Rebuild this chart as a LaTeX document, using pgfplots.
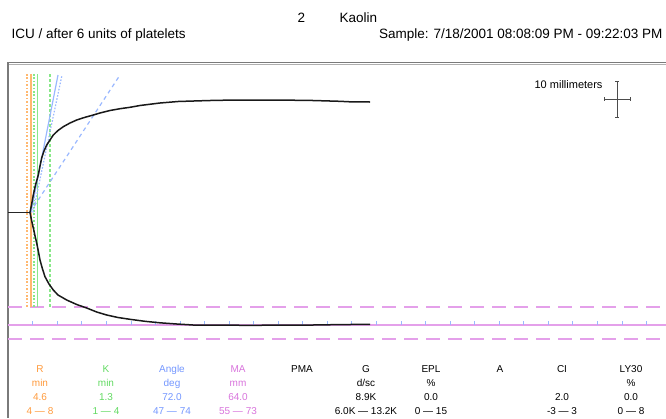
\documentclass[border=0pt]{standalone}
\usepackage{pgfplots}
\pgfplotsset{compat=1.18}
\usepackage{fontspec}
\setmainfont{Liberation Sans}
\definecolor{rcol}{HTML}{FF9A3C}
\definecolor{kcol}{HTML}{62DA62}
\definecolor{acol}{HTML}{7497FF}
\definecolor{macol}{HTML}{D874DC}
\definecolor{rline}{HTML}{FFB870}
\definecolor{kline}{HTML}{88E888}
\definecolor{aline}{HTML}{9AB8FF}
\definecolor{mline}{HTML}{E4A0EA}
\definecolor{frame}{HTML}{7A7A7A}

% one column of the result table: x, colour, name, unit, value, range
\newcommand\col[6]{%
  \node[anchor=base,text=#2] at (axis cs:#1,372) {#3};
  \node[anchor=base,text=#2] at (axis cs:#1,386) {#4};
  \node[anchor=base,text=#2] at (axis cs:#1,400) {#5};
  \node[anchor=base,text=#2] at (axis cs:#1,414) {#6};}

\begin{document}
\begin{tikzpicture}
\begin{axis}[name=ax,width=666pt,height=418pt,scale only axis,
  xmin=0,xmax=666,ymin=0,ymax=418,y dir=reverse,hide axis,clip=false]

% frame
\addplot[frame,line width=0.8pt] coordinates {(8,62)(666,62)};
\addplot[frame!60,line width=0.8pt] coordinates {(8,64.2)(666,64.2)};
\addplot[frame,line width=1.2pt] coordinates {(8,62)(8,418)};

% MA limits
\addplot[mline,line width=1.3pt,dash pattern=on 14pt off 8pt] coordinates {(8,307)(666,307)};
\addplot[mline,line width=1.3pt,dash pattern=on 14pt off 8pt] coordinates {(8,339)(666,339)};
\addplot[mline,line width=1.3pt] coordinates {(8,325)(666,325)};
% time ticks
\pgfplotsinvokeforeach{0,...,25}{
  \addplot[aline,line width=0.8pt] coordinates {({32.7+24.55*#1},321)({32.7+24.55*#1},324.5)};
}

% R, K markers
\addplot[rline,line width=1.6pt,dash pattern=on 1.6pt off 1.8pt] coordinates {(26.7,74)(26.7,307)};
\addplot[rline,line width=2.4pt] coordinates {(31,74)(31,307)};
\addplot[kline,line width=1.2pt,dash pattern=on 1.6pt off 1.8pt] coordinates {(34,74)(34,307)};
\addplot[kline,line width=1.4pt] coordinates {(37.7,74)(37.7,307)};
\addplot[kline,line width=1.2pt,dash pattern=on 2.5pt off 2.5pt] coordinates {(50,74)(50,307)};

% angle lines
\addplot[aline,line width=1.2pt] coordinates {(31,212.5)(58,75)};
\addplot[aline,line width=1.2pt,dash pattern=on 1.6pt off 1.6pt] coordinates {(33,212.5)(62,75)};
\addplot[aline,line width=1.2pt,dash pattern=on 4pt off 3.5pt] coordinates {(30,212.5)(120,75)};

% trace
\addplot[black!85,line width=1.2pt] coordinates {(8,212.5)(30,212.5)};
\addplot[black!90,line width=1.5pt] coordinates {
(30,212.5)(31.5,205)(33.3,195)(35.5,185)(38.3,175)(40,166)(41.7,158)(44,151)
(46.7,145)(50,140)(53.3,135)(58,130.5)(63.3,126.7)(70,123)(76.7,120)(85,117.3)
(93.3,115)(100,113)(110,110.5)(120,108.7)(130,107.3)(140,105.5)(160,103)
(178,101.5)(200,100.8)(217,100.3)(250,100)(277,100)(313,100.5)(340,101.3)
(350,101.8)(370,102)};
\addplot[black!90,line width=1.5pt] coordinates {
(30,212.5)(31.5,220)(33.3,228)(35.5,238)(36.7,243)(38.3,251)(40,260)(42.5,269)
(45,276.7)(49,284)(53.3,290)(58,295)(66.7,300)(76.7,304.5)(86.7,308)(96.7,312)
(106.7,315)(118,317.5)(130,319.3)(145,321.3)(160,322.8)(176.7,324)(193,325)
(250,325.3)(313,325)(340,324.6)(370,324.3)};

% scale cross
\addplot[black!70,line width=0.8pt] coordinates {(617,81)(617,117)};
\addplot[black!70,line width=0.8pt] coordinates {(604,99)(630,99)};
\addplot[black!70,line width=0.8pt] coordinates {(615,81)(619,81)};
\addplot[black!70,line width=0.8pt] coordinates {(615,117)(619,117)};
\addplot[black!70,line width=0.8pt] coordinates {(604,97)(604,101)};
\addplot[black!70,line width=0.8pt] coordinates {(630,97)(630,101)};
\node[anchor=base east,font=\fontsize{11}{13}\selectfont] at (axis cs:606,88) {10 millimeters};

% header
\node[anchor=base west,font=\fontsize{13.5}{16}\selectfont] at (axis cs:294,22.7) {2};
\node[anchor=base west,font=\fontsize{13.5}{16}\selectfont] at (axis cs:336,22.7) {Kaolin};
\node[anchor=base west,font=\fontsize{13.5}{16}\selectfont] at (axis cs:8,38.3) {ICU / after 6 units of platelets};
\node[anchor=base east,font=\fontsize{13.5}{16}\selectfont] at (axis cs:666,38.3) {Sample: 7/18/2001 08:08:09 PM - 09:22:03 PM};

% results table
\pgfplotsset{every node/.append style={font=\fontsize{11}{13}\selectfont,inner sep=0pt}}
\col{40}{rcol}{R}{min}{4.6}{4 --- 8}
\col{106}{kcol}{K}{min}{1.3}{1 --- 4}
\col{172}{acol}{Angle}{deg}{72.0}{47 --- 74}
\col{238}{macol}{MA}{mm}{64.0}{55 --- 73}
\col{302}{black}{PMA}{}{}{}
\col{366}{black}{G}{d/sc}{8.9K}{6.0K --- 13.2K}
\col{431}{black}{EPL}{\%}{0.0}{0 --- 15}
\col{500}{black}{A}{}{}{}
\col{562}{black}{CI}{}{2.0}{-3 --- 3}
\col{631}{black}{LY30}{\%}{0.0}{0 --- 8}
\end{axis}
\pgfresetboundingbox
\useasboundingbox (ax.south west) rectangle (ax.north east);
\end{tikzpicture}
\end{document}
